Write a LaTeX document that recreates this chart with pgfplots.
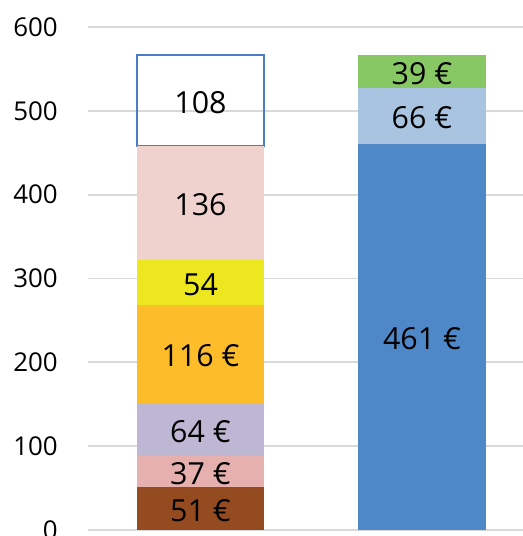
\documentclass[border=0pt]{standalone}
\usepackage{fontspec}
\setmainfont{Open Sans}
\usepackage{pgfplots}
\pgfplotsset{compat=1.18}
\usetikzlibrary{calc}
\definecolor{cBrown}{HTML}{954B20}
\definecolor{cRose}{HTML}{E5B0AE}
\definecolor{cLav}{HTML}{BEB7D4}
\definecolor{cGold}{HTML}{FDBD2A}
\definecolor{cYel}{HTML}{ECE71E}
\definecolor{cPink}{HTML}{EFD1CE}
\definecolor{cEdge}{HTML}{4A7EC4}
\definecolor{cBlue}{HTML}{4E88C8}
\definecolor{cLblue}{HTML}{A9C4E0}
\definecolor{cGreen}{HTML}{88C864}
\definecolor{cGrid}{HTML}{D9D9D9}

\tikzset{lbl/.style={font=\fontsize{30.5}{30.5}\selectfont, yshift=-2bp}}

\begin{document}
\begin{tikzpicture}
\begin{axis}[name=ax, scale only axis, width=435bp, height=503bp,
  xmin=-0.508, xmax=1.456, ymin=0, ymax=600,
  ybar stacked, bar width=0.576,
  xtick=\empty, ytick={0,100,...,600},
  axis line style={draw=none}, major tick length=0pt,
  ymajorgrids, grid style={cGrid, line width=1.8bp},
  yticklabel style={font=\fontsize{26}{26}\selectfont, anchor=east, inner sep=0pt, xshift=-30bp},
  /pgf/number format/assume math mode=true]
% left bar (right-bar entries are zero)
\addplot[fill=cBrown, draw=none] coordinates {(0,51) (1,0)};
\addplot[fill=cRose, draw=none] coordinates {(0,37) (1,0)};
\addplot[fill=cLav, draw=none] coordinates {(0,64) (1,0)};
\addplot[fill=cGold, draw=none] coordinates {(0,116) (1,0)};
\addplot[fill=cYel, draw=none] coordinates {(0,54) (1,0)};
\addplot[fill=cPink, draw=none] coordinates {(0,136) (1,0)};
\addplot[fill=none, draw=cEdge, line width=2bp] coordinates {(0,108) (1,0)};
% right bar
\addplot[fill=cBlue, draw=none] coordinates {(0,0) (1,461)};
\addplot[fill=cLblue, draw=none] coordinates {(0,0) (1,66)};
\addplot[fill=cGreen, draw=none] coordinates {(0,0) (1,39)};
% label anchors (segment midpoints)
\coordinate (a1) at (axis cs:0,25.5);
\coordinate (a2) at (axis cs:0,69.5);
\coordinate (a3) at (axis cs:0,120);
\coordinate (a4) at (axis cs:0,210);
\coordinate (a5) at (axis cs:0,295);
\coordinate (a6) at (axis cs:0,390);
\coordinate (a7) at (axis cs:0,512);
\coordinate (b1) at (axis cs:1,230.5);
\coordinate (b2) at (axis cs:1,494);
\coordinate (b3) at (axis cs:1,546.5);
\end{axis}
\node[lbl] at (a1) {51 €};
\node[lbl] at (a2) {37 €};
\node[lbl] at (a3) {64 €};
\node[lbl] at (a4) {116 €};
\node[lbl] at (a5) {54};
\node[lbl] at (a6) {136};
\node[lbl] at (a7) {108};
\node[lbl] at (b1) {461 €};
\node[lbl] at (b2) {66 €};
\node[lbl] at (b3) {39 €};
\pgfresetboundingbox
\path[use as bounding box] ($(ax.south west)+(-88bp,-6bp)$) rectangle ($(ax.north east)+(0,27bp)$);
\end{tikzpicture}
\end{document}
